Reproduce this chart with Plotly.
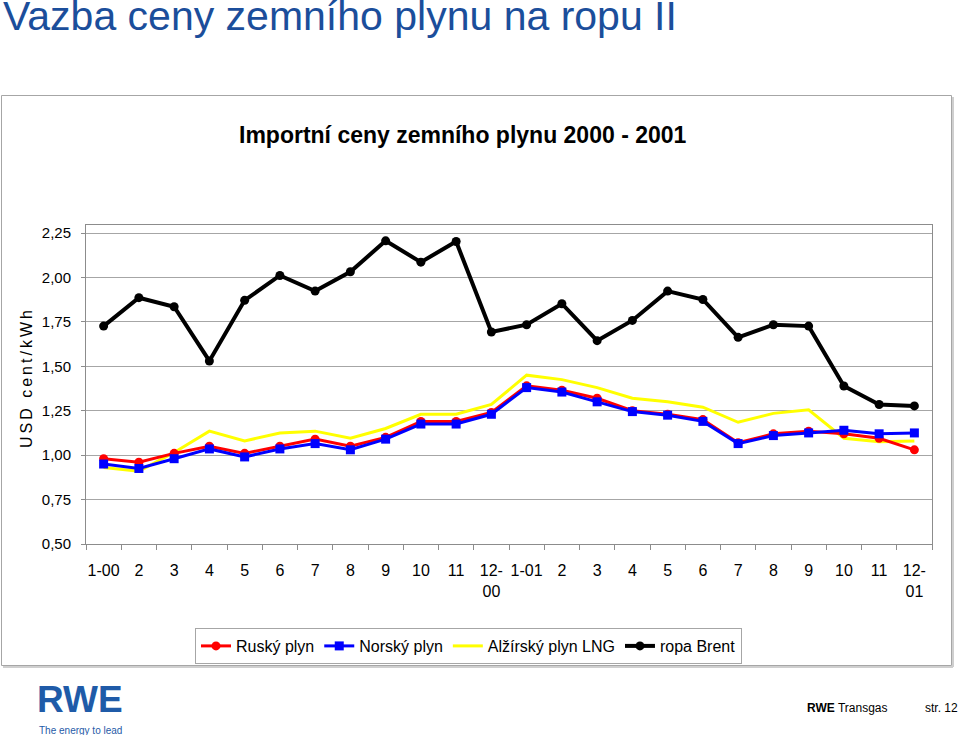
import plotly.graph_objects as go

W, H = 960, 735

def px(x):
    return x / W

def py(y):
    return 1 - y / H

# ---- data ----
categories = ["2000-01", "2000-02", "2000-03", "2000-04", "2000-05", "2000-06",
              "2000-07", "2000-08", "2000-09", "2000-10", "2000-11", "2000-12",
              "2001-01", "2001-02", "2001-03", "2001-04", "2001-05", "2001-06",
              "2001-07", "2001-08", "2001-09", "2001-10", "2001-11", "2001-12"]
tick_labels = ["1-00", "2", "3", "4", "5", "6", "7", "8", "9", "10", "11", "12-<br>00",
               "1-01", "2", "3", "4", "5", "6", "7", "8", "9", "10", "11", "12-<br>01"]

rusky = [0.98, 0.96, 1.01, 1.05, 1.01, 1.05, 1.09, 1.05, 1.10, 1.19, 1.19, 1.24,
         1.39, 1.365, 1.32, 1.25, 1.23, 1.20, 1.07, 1.12, 1.135, 1.12, 1.095, 1.03]
norsky = [0.95, 0.925, 0.98, 1.035, 0.99, 1.035, 1.065, 1.03, 1.09, 1.175, 1.175, 1.23,
          1.38, 1.355, 1.30, 1.245, 1.225, 1.19, 1.065, 1.11, 1.125, 1.14, 1.12, 1.125]
alzirsky = [0.93, 0.91, 1.015, 1.135, 1.08, 1.125, 1.135, 1.095, 1.15, 1.23, 1.23, 1.285,
            1.45, 1.425, 1.38, 1.32, 1.30, 1.27, 1.185, 1.235, 1.255, 1.095, 1.075, 1.08]
brent = [1.726, 1.886, 1.835, 1.53, 1.871, 2.011, 1.923, 2.032, 2.206, 2.086, 2.202, 1.693,
         1.734, 1.852, 1.644, 1.758, 1.923, 1.876, 1.663, 1.734, 1.726, 1.389, 1.285, 1.277]

y_ticks = [0.50, 0.75, 1.00, 1.25, 1.50, 1.75, 2.00, 2.25]

FONT = "Liberation Sans, Arial, sans-serif"
NARROW = "Liberation Sans Narrow, Arial Narrow, Liberation Sans, sans-serif"
GRID = "#A6A6A6"
AXIS = "#8C8C8C"

fig = go.Figure()

fig.add_trace(go.Scatter(
    x=categories, y=alzirsky, name="Alžírský plyn LNG", mode="lines",
    line=dict(color="#FFFF00", width=3), legendrank=3))
fig.add_trace(go.Scatter(
    x=categories, y=rusky, name="Ruský plyn", mode="lines+markers",
    line=dict(color="#FF0000", width=3),
    marker=dict(symbol="circle", size=9, color="#FF0000"), legendrank=1))
fig.add_trace(go.Scatter(
    x=categories, y=norsky, name="Norský plyn", mode="lines+markers",
    line=dict(color="#0000FF", width=3),
    marker=dict(symbol="square", size=9, color="#0000FF"), legendrank=2))
fig.add_trace(go.Scatter(
    x=categories, y=brent, name="ropa Brent", mode="lines+markers",
    line=dict(color="#000000", width=4),
    marker=dict(symbol="circle", size=9, color="#000000"), legendrank=4))

fig.update_layout(
    width=W, height=H, autosize=False,
    margin=dict(l=0, r=0, t=0, b=0, pad=0, autoexpand=False),
    paper_bgcolor="white", plot_bgcolor="white",
    separators=", ",
    font=dict(family=FONT, size=14, color="#000000"),
    showlegend=True,
    legend=dict(
        orientation="h", x=px(195), y=py(628), xanchor="left", yanchor="top",
        bordercolor="#A6A6A6", borderwidth=1, bgcolor="white",
        font=dict(family=FONT, size=16, color="#000000"),
        itemwidth=30, traceorder="normal",
    ),
    xaxis=dict(
        domain=[px(86), px(932)],
        type="category", categoryorder="array", categoryarray=categories,
        range=[-0.5, 23.5], autorange=False, automargin=False,
        tickmode="array", tickvals=categories, ticktext=tick_labels,
        tickson="boundaries", ticks="outside", ticklen=5, tickcolor=AXIS,
        tickangle=0, ticklabelstandoff=12,
        showline=True, linecolor=AXIS, linewidth=1, mirror=True,
        showgrid=False, zeroline=False,
        tickfont=dict(family=NARROW, size=16),
    ),
    yaxis=dict(
        domain=[py(544), py(225)],
        range=[0.5, 2.295], autorange=False, automargin=False,
        tickmode="array", tickvals=y_ticks, tickformat=".2f",
        ticks="outside", ticklen=4, tickcolor=AXIS, ticklabelstandoff=7,
        showline=True, linecolor=AXIS, linewidth=1, mirror=True,
        showgrid=True, gridcolor=GRID, gridwidth=1, zeroline=False,
        tickfont=dict(family=FONT, size=15),
    ),
)

shapes = [
    # outer chart frame shadow
    dict(type="line", xref="paper", yref="paper", x0=px(953), x1=px(953), y0=py(97), y1=py(667),
         line=dict(color="#CFCFCF", width=2)),
    dict(type="line", xref="paper", yref="paper", x0=px(3), x1=px(953), y0=py(667), y1=py(667),
         line=dict(color="#CFCFCF", width=2)),
    # outer chart frame
    dict(type="rect", xref="paper", yref="paper", x0=px(1.5), x1=px(951.5), y0=py(95.5), y1=py(665.5),
         line=dict(color="#A6A6A6", width=1)),
]
fig.update_layout(shapes=shapes)

annotations = [
    dict(text="Vazba ceny zemního plynu na ropu II", x=px(1), y=py(-9), xref="paper", yref="paper",
         xanchor="left", yanchor="top", showarrow=False,
         font=dict(family=FONT, size=41, color="#1B4E9B")),
    dict(text="<b>Importní ceny zemního plynu 2000 - 2001</b>", x=px(463), y=py(135),
         xref="paper", yref="paper", xanchor="center", yanchor="middle", showarrow=False,
         font=dict(family=FONT, size=23, color="#000000")),
    dict(text='<span style="letter-spacing:3px">USD cent/kWh</span>', x=px(27), y=py(378),
         xref="paper", yref="paper", xanchor="center", yanchor="middle", showarrow=False,
         textangle=-90, font=dict(family=FONT, size=16, color="#000000")),
    dict(text="<b>RWE</b>", x=px(35), y=py(722), xref="paper", yref="paper",
         xanchor="left", yanchor="bottom", showarrow=False,
         font=dict(family=FONT, size=37, color="#1F5BA8")),
    dict(text="The energy to lead", x=px(37), y=py(723), xref="paper", yref="paper",
         xanchor="left", yanchor="top", showarrow=False,
         font=dict(family=NARROW, size=10, color="#1F5BA8")),
    dict(text="<b>RWE</b> Transgas", x=px(805), y=py(708), xref="paper", yref="paper",
         xanchor="left", yanchor="middle", showarrow=False,
         font=dict(family=FONT, size=12, color="#000000")),
    dict(text="str. 12", x=px(923), y=py(708), xref="paper", yref="paper",
         xanchor="left", yanchor="middle", showarrow=False,
         font=dict(family=FONT, size=12, color="#000000")),
]
fig.update_layout(annotations=annotations)

fig.write_html("out.html",
               config={"displayModeBar": False, "responsive": False},
               post_script="document.body.style.margin='0';document.body.style.overflow='hidden';")
